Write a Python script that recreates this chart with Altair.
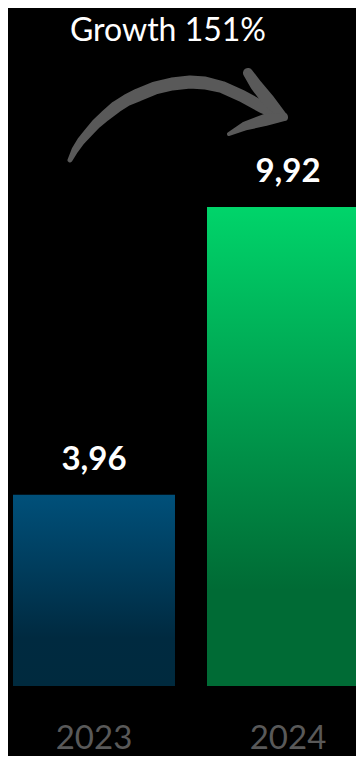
import altair as alt
import pandas as pd

# --- data ---
years = ["2023", "2024"]
values = [3.96, 9.92]
labels = [f"{v:.2f}".replace(".", ",") for v in values]
title_text = "Growth 151%"

# decorative curved arrow: centreline (pixel positions inside the chart) and stroke width
shaft_x = [62, 67, 73, 80, 88, 97, 108, 119, 130, 147, 164, 182, 197, 214, 234, 254, 267]
shaft_y = [152, 142, 133, 125, 116, 108, 99, 92, 87, 80, 76, 74, 75, 79, 88, 99, 105]
shaft_w = [5, 7, 8, 9, 10, 11, 12, 12, 13, 13, 13, 13, 13, 12, 12, 12, 11]
upper_x = [240, 248, 260, 275]
upper_y = [65, 77, 92, 108]
upper_w = [10, 12, 13, 8]
lower_x = [276, 257, 237, 221]
lower_y = [109, 112, 118, 126]
lower_w = [8, 12, 9, 4]

df = pd.DataFrame({"year": years, "value": values, "label": labels})
arrow_df = pd.concat([
    pd.DataFrame({"seg": s, "i": range(len(xs)), "x": xs, "y": ys, "w": ws})
    for s, xs, ys, ws in [("shaft", shaft_x, shaft_y, shaft_w),
                          ("upper", upper_x, upper_y, upper_w),
                          ("lower", lower_x, lower_y, lower_w)]
], ignore_index=True)
title_df = pd.DataFrame({"t": [title_text]})

x_enc = alt.X(
    "year:N",
    scale=alt.Scale(domain=years, range=[0, 366], paddingInner=0.165, paddingOuter=0.0258),
    axis=alt.Axis(title=None, domain=False, ticks=False, grid=False, labelAngle=0,
                  labelColor="#595959", labelFont="Lato", labelFontSize=33,
                  labelBaseline="alphabetic", labelPadding=62),
)
y_enc = alt.Y("value:Q", scale=alt.Scale(domain=[0, 14.04], nice=False, zero=True), axis=None)

grad23 = alt.Gradient(
    gradient="linear", x1=0, x2=0, y1=0, y2=1,
    stops=[alt.GradientStop(color="#00507A", offset=0),
           alt.GradientStop(color="#002A40", offset=0.75),
           alt.GradientStop(color="#002A3E", offset=1)],
)
grad24 = alt.Gradient(
    gradient="linear", x1=0, x2=0, y1=0, y2=1,
    stops=[alt.GradientStop(color="#00D46A", offset=0),
           alt.GradientStop(color="#006B35", offset=0.8),
           alt.GradientStop(color="#006B35", offset=1)],
)

base = alt.Chart(df)
bars23 = base.transform_filter(alt.datum.year == "2023").mark_bar(fill=grad23, clip=True).encode(x=x_enc, y=y_enc)
bars24 = base.transform_filter(alt.datum.year == "2024").mark_bar(fill=grad24, clip=True).encode(x=x_enc, y=y_enc)
vals = base.mark_text(font="Lato", fontWeight="bold", fontSize=33, color="white",
                      baseline="alphabetic", dy=-25).encode(x=x_enc, y=y_enc, text="label:N")

inner = alt.layer(bars23, bars24, vals)

arrow = alt.Chart(arrow_df).mark_trail(color="#595959").encode(
    x=alt.X("x:Q", scale=None, axis=None),
    y=alt.Y("y:Q", scale=None, axis=None),
    size=alt.Size("w:Q", scale=None, legend=None),
    detail="seg:N",
    order="i:Q",
)

title = alt.Chart(title_df).mark_text(font="Lato", fontSize=32, color="white",
                                      baseline="alphabetic", align="center").encode(
    x=alt.value(160), y=alt.value(33), text="t:N"
)

chart = alt.layer(inner, arrow, title).resolve_scale(x="independent", y="independent").properties(
    width=348, height=678, background="black",
    padding={"left": 0, "top": 0, "right": 0, "bottom": 70},
    autosize=alt.AutoSizeParams(type="none"),
).configure_view(stroke=None)

chart.save("out.html", embed_options={"renderer": "svg", "actions": False})
